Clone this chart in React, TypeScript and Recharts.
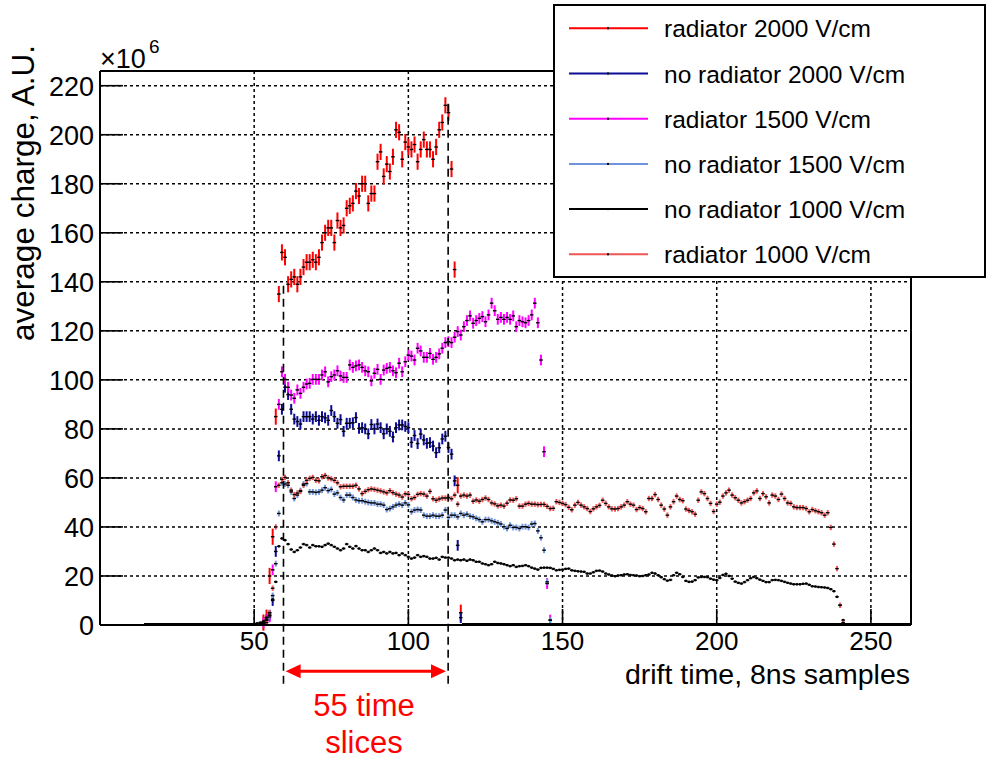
import React from 'react';
import {
  CartesianGrid,
  ErrorBar,
  ReferenceLine,
  Scatter,
  ScatterChart,
  XAxis,
  YAxis,
} from 'recharts';

const FONT = '"Liberation Sans", Arial, Helvetica, sans-serif';

// axis ticks
const X_TICKS = [50, 100, 150, 200, 250];
const X_MINOR = [10, 20, 30, 40, 50, 60, 70, 80, 90, 100, 110, 120, 130, 140, 150, 160, 170, 180, 190, 200, 210, 220, 230, 240, 250, 260];
const Y_TICKS = [0, 20, 40, 60, 80, 100, 120, 140, 160, 180, 200, 220];
const Y_MINOR = [5, 10, 15, 20, 25, 30, 35, 40, 45, 50, 55, 60, 65, 70, 75, 80, 85, 90, 95, 100, 105, 110, 115, 120, 125, 130, 135, 140, 145, 150, 155, 160, 165, 170, 175, 180, 185, 190, 195, 200, 205, 210, 215, 220, 225];
const X_DOMAIN: [number, number] = [0, 263];
const Y_DOMAIN: [number, number] = [0, 226];

// average charge (x10^6) per drift-time bin, first bin given by *_START
const RADIATOR_2000_START = 53;
const RADIATOR_2000 = [1, 3, 20, 36, 85, 135, 152, 150, 139, 141, 142, 139, 142, 146, 148, 148, 149, 148, 150, 156, 160, 162, 162, 156, 165, 162, 163, 170, 171, 172, 177, 175, 180, 180, 172, 176, 176, 189, 193, 183, 188, 185, 191, 202, 201, 190, 197, 195, 194, 196, 189, 194, 198, 194, 194, 190, 195, 202, 205, 212, 209, 186, 145, 57, 5];

const NO_RADIATOR_2000_START = 54;
const NO_RADIATOR_2000 = [2, 4, 10, 30, 69, 88, 97, 94, 88, 84, 83, 82, 85, 85, 85, 84, 85, 83.5, 85, 84.5, 83.5, 87.5, 85, 82.3, 83.8, 79, 82.3, 82.3, 82.5, 84.6, 80.2, 80.5, 80, 78, 81.8, 80, 82, 80.5, 78, 80, 79, 76.7, 80.5, 81.6, 81.6, 81, 80.5, 74.5, 77.3, 74, 77.9, 75.5, 74.1, 74.4, 73, 70.3, 72.3, 75.9, 77, 72.4, 69.7, 58.8, 32.5, 3];

const RADIATOR_1500_START = 53;
const RADIATOR_1500 = [1, 2, 3.3, 22.5, 56.4, 90, 103.3, 100.2, 97, 93.8, 92.5, 95.9, 94.5, 97, 98.3, 98.6, 100.2, 100.2, 100.2, 102, 103.3, 99.2, 101.3, 102, 103.7, 101.6, 101, 101, 106.1, 105.1, 105.7, 106.1, 105.1, 103.7, 103.3, 99.6, 102.7, 104.3, 100.2, 104, 104.7, 105.1, 103.7, 102.9, 106.8, 103.3, 107.4, 110.1, 109.7, 108.1, 112.9, 111.8, 109.2, 109.2, 110.8, 108.4, 109.2, 110.6, 112.9, 115.2, 115.6, 115.2, 117.4, 119.7, 118.3, 121.7, 124.2, 126.1, 123.1, 124.2, 125.1, 125.8, 123.7, 126.5, 131.3, 128.2, 124.7, 125.5, 124.7, 125.5, 124.7, 126.1, 121.7, 124.2, 123.7, 123.3, 124.2, 126.5, 131.3, 123.3, 108.1, 70.7, 16.9, 2];

const NO_RADIATOR_1500_START = 54;
const NO_RADIATOR_1500 = [2, 4, 12, 25, 45.5, 58, 57.5, 57, 54.3, 51.6, 53, 54.8, 57.5, 57.7, 54.3, 54.3, 54.1, 54.3, 55, 56, 54.8, 55.3, 53.4, 53.9, 52, 51, 53, 53, 52, 51, 50.7, 50.7, 50.3, 50, 49.8, 49.8, 49.3, 49.3, 48.9, 47.1, 47.5, 48.2, 48.9, 49.3, 48.9, 49.8, 49, 46.2, 46.9, 47.1, 46.9, 44.8, 44.4, 44.4, 44.8, 44.4, 44.4, 44.8, 46.9, 43.9, 44.8, 44.8, 44.1, 45.5, 44.8, 45.2, 44.4, 44.1, 43.5, 43, 42.1, 43, 43, 42.5, 42.1, 41.7, 41.2, 40.1, 39.4, 40.7, 39.8, 39.8, 39.4, 40.1, 40.1, 39.8, 41.2, 41.4, 38.4, 35.6, 30.5, 17.6, 2];

const NO_RADIATOR_1000_START = 50;
const NO_RADIATOR_1000 = [0.5, 0.7, 1, 1.5, 3, 5, 10.4, 17.6, 32.1, 35.3, 34.6, 33, 30.8, 29.8, 30.5, 31.6, 33, 32.6, 31.6, 32.6, 32.1, 32.1, 31.9, 32.6, 33.2, 32.6, 31.9, 31.2, 30.5, 31.2, 33, 31.9, 31.2, 32.2, 31.2, 30.5, 30.5, 29.8, 30.5, 31.2, 30.5, 29.4, 29.8, 29.2, 29.8, 29.2, 29.4, 28.5, 29.2, 28.5, 27.8, 27.1, 27.5, 28.5, 27.8, 28.1, 27.8, 27.1, 27.1, 27.4, 26.7, 27.8, 27.5, 27.5, 27.1, 26.4, 26.7, 26.4, 26.7, 26.2, 26.7, 26.4, 25.8, 25.8, 25.1, 24.8, 24.4, 24.8, 25.8, 25.3, 25.1, 24.8, 24.4, 24, 24.4, 23.7, 24, 24.1, 24.4, 24, 23.4, 23, 22.6, 23.3, 23.4, 23.4, 23.3, 22.9, 22.3, 22.5, 22.6, 22.9, 23, 22.3, 22.1, 21.9, 21.8, 21.7, 21, 21, 21.5, 22.1, 22.2, 21.8, 21, 20.6, 20.2, 19.9, 20.2, 20.3, 20.6, 20.7, 20.4, 20.3, 20.2, 19.9, 20, 20.3, 20.6, 21.3, 21, 20.3, 19.5, 18.7, 18.1, 18.4, 20.3, 21.3, 20.7, 19.6, 18, 17.6, 17.7, 18.3, 19.4, 19.6, 19.6, 19.5, 18.9, 18.5, 18.3, 19.2, 20.4, 20.9, 20, 18.9, 17.7, 17.2, 16.9, 17.5, 18.3, 19.1, 19.6, 19.1, 18.5, 18, 17.5, 17.5, 18.3, 18.4, 18.3, 18, 17.6, 17.2, 16.9, 16.6, 16.6, 16.6, 16.8, 16.9, 16.4, 15.8, 15.7, 15.5, 15.4, 15.3, 15.1, 14.6, 13.8, 11.5, 8.1, 2];

const RADIATOR_1000_START = 53;
const RADIATOR_1000 = [0.5, 1, 5, 15, 40, 57, 59.4, 60.2, 58, 55, 53.2, 53.8, 54.5, 57, 59, 59.8, 60.2, 59, 58.8, 60.5, 61, 60, 59.6, 59, 58, 56.4, 56.6, 56.6, 56.6, 56.6, 57, 55.5, 53.6, 54.5, 55.2, 55.5, 55.3, 55, 54.7, 54.3, 53.9, 54.8, 54, 53.4, 53, 52.2, 53.5, 53.3, 51.5, 52, 53.3, 53.6, 53.4, 52.6, 54.5, 51.5, 50.9, 51.4, 51.8, 51.8, 52, 51.5, 53, 49.3, 52.6, 53, 52.6, 53, 50.5, 51, 50.5, 51.2, 51.8, 51.2, 49.8, 49.4, 48.6, 48.9, 48.5, 49.7, 51, 50.9, 51.5, 48.5, 48.5, 49.3, 49.6, 49.3, 49.3, 49.1, 49.2, 49.2, 48.4, 47.5, 47.6, 50.3, 50, 49.6, 49.1, 48, 47, 48.9, 50, 48.9, 48.2, 47.5, 46.3, 47.4, 48.2, 48.8, 50.9, 49.6, 48.2, 47.4, 47.3, 47.5, 48.2, 48.9, 50.3, 49.3, 48.9, 47.1, 47.9, 47.5, 46.2, 51.6, 51.6, 53.2, 51.2, 48.9, 47.3, 44.8, 48.2, 50.3, 52.6, 51.2, 50.7, 47.3, 46.7, 46.2, 45.2, 50.9, 54.3, 53.6, 51.6, 49.6, 46.3, 49.3, 50.1, 52.6, 53.9, 55, 53, 51.9, 50.9, 49.8, 50.3, 50.9, 51.6, 53.9, 54.7, 51.6, 53.6, 52.3, 49.8, 53, 52.6, 51.2, 53.4, 51.6, 49.8, 49.6, 48.2, 47.9, 47.9, 47.9, 47.5, 46.2, 47.1, 46.6, 46.2, 45.8, 44.8, 45.8, 39.8, 33, 23, 8, 1];

// statistical error per series (x10^6)
const ERR_R2000 = 3.3;
const ERR_N2000 = 2.2;
const ERR_R1500 = 2.2;
const ERR_N1500 = 1.2;
const ERR_N1000 = 0.5;
const ERR_R1000 = 1.1;

// empty bins sit just above zero
const BASELINE_FIRST = 15;
const BASELINE_LAST = 263;
const BASELINE_LEVEL = 0.5;

// annotation (drift-time bins / charge units)
const SLICE_START = 59.5;
const SLICE_END = 112.9;
const DASH_BOTTOM = -24;
const LEFT_DASH_TOP = 140;
const RIGHT_DASH_TOP = 214;
const ARROW_Y = -18.9;
const ARROW_FROM = 60.2;
const ARROW_TO = 112.2;

// axes need a non-zero size to render; keep it negligible
const AX = 0.01;

type Pt = { x: number; y: number; err: number };

function buildSeries(start: number, values: number[], err: number): Pt[] {
  const pts: Pt[] = [];
  for (let x = BASELINE_FIRST; x < start; x++) pts.push({ x, y: BASELINE_LEVEL, err: 0 });
  values.forEach((v, i) => pts.push({ x: start + i, y: v, err }));
  for (let x = start + values.length; x <= BASELINE_LAST; x++) pts.push({ x, y: BASELINE_LEVEL, err: 0 });
  return pts;
}

const SERIES = [
  { name: 'radiator 2000 V/cm', color: '#ff0000', data: buildSeries(RADIATOR_2000_START, RADIATOR_2000, ERR_R2000) },
  { name: 'no radiator 2000 V/cm', color: '#0c0c96', data: buildSeries(NO_RADIATOR_2000_START, NO_RADIATOR_2000, ERR_N2000) },
  { name: 'radiator 1500 V/cm', color: '#ff00ff', data: buildSeries(RADIATOR_1500_START, RADIATOR_1500, ERR_R1500) },
  { name: 'no radiator 1500 V/cm', color: '#6f94dc', data: buildSeries(NO_RADIATOR_1500_START, NO_RADIATOR_1500, ERR_N1500) },
  { name: 'no radiator 1000 V/cm', color: '#000000', data: buildSeries(NO_RADIATOR_1000_START, NO_RADIATOR_1000, ERR_N1000) },
  { name: 'radiator 1000 V/cm', color: '#ee5555', data: buildSeries(RADIATOR_1000_START, RADIATOR_1000, ERR_R1000) },
];

const Marker = (p: any) => (
  <line x1={p.cx - 1.8} x2={p.cx + 1.8} y1={p.cy} y2={p.cy} stroke="#000" strokeWidth={1.4} />
);

const XMajorTick = (p: any) => (
  <g>
    <line x1={p.x} x2={p.x} y1={p.y} y2={p.y - 16} stroke="#000" strokeWidth={1.6} />
    <text x={p.x} y={p.y + 25} textAnchor="middle" fontSize={26} fontFamily={FONT} fill="#000">
      {p.payload.value}
    </text>
  </g>
);

const XMinorTick = (p: any) => (
  <line x1={p.x} x2={p.x} y1={p.y} y2={p.y - 8} stroke="#000" strokeWidth={1.6} />
);

const YMajorTick = (p: any) => (
  <g>
    <line x1={p.x} x2={p.x + 23} y1={p.y} y2={p.y} stroke="#000" strokeWidth={1.6} />
    <text x={p.x - 6} y={p.y + 9.8} textAnchor="end" fontSize={27} fontFamily={FONT} fill="#000">
      {p.payload.value}
    </text>
  </g>
);

const YMinorTick = (p: any) => (
  <line x1={p.x} x2={p.x + 12} y1={p.y} y2={p.y} stroke="#000" strokeWidth={1.6} />
);

const ArrowShape = (p: any) => {
  const { x1, y1, x2, y2 } = p;
  const head = 15;
  const half = 7;
  return (
    <g>
      <line x1={x1 + head - 2} y1={y1} x2={x2 - head + 2} y2={y2} stroke="#ff0000" strokeWidth={3} />
      <polygon points={`${x1},${y1} ${x1 + head},${y1 - half} ${x1 + head},${y1 + half}`} fill="#ff0000" />
      <polygon points={`${x2},${y2} ${x2 - head},${y2 - half} ${x2 - head},${y2 + half}`} fill="#ff0000" />
    </g>
  );
};

export default function App() {
  return (
    <div style={{ position: 'absolute', left: 0, top: 0, width: 986, height: 759, background: '#fff' }}>
      <ScatterChart
        width={986}
        height={759}
        margin={{ top: 71 - AX, right: 75 - AX, bottom: 134 - 2 * AX, left: 100 - 2 * AX }}
      >
        <CartesianGrid stroke="#000" strokeWidth={1.5} strokeDasharray="3 3" />
        <XAxis
          type="number"
          dataKey="x"
          domain={X_DOMAIN}
          ticks={X_TICKS}
          interval={0}
          height={AX}
          tickSize={0}
          tickMargin={0}
          allowDataOverflow
          axisLine={{ stroke: '#000', strokeWidth: 2 }}
          tick={<XMajorTick />}
        />
        <XAxis
          xAxisId="minor"
          type="number"
          domain={X_DOMAIN}
          ticks={X_MINOR}
          interval={0}
          height={AX}
          tickSize={0}
          tickMargin={0}
          axisLine={false}
          tick={<XMinorTick />}
        />
        <XAxis
          xAxisId="top"
          orientation="top"
          type="number"
          domain={X_DOMAIN}
          height={AX}
          tick={false}
          tickLine={false}
          axisLine={{ stroke: '#000', strokeWidth: 2 }}
        />
        <YAxis
          type="number"
          dataKey="y"
          domain={Y_DOMAIN}
          ticks={Y_TICKS}
          interval={0}
          width={AX}
          tickSize={0}
          tickMargin={0}
          allowDataOverflow
          axisLine={{ stroke: '#000', strokeWidth: 2 }}
          tick={<YMajorTick />}
        />
        <YAxis
          yAxisId="minor"
          type="number"
          domain={Y_DOMAIN}
          ticks={Y_MINOR}
          interval={0}
          width={AX}
          tickSize={0}
          tickMargin={0}
          axisLine={false}
          tick={<YMinorTick />}
        />
        <YAxis
          yAxisId="right"
          orientation="right"
          type="number"
          domain={Y_DOMAIN}
          width={AX}
          tick={false}
          tickLine={false}
          axisLine={{ stroke: '#000', strokeWidth: 2 }}
        />

        {SERIES.map((s) => (
          <Scatter key={s.name} name={s.name} data={s.data} fill={s.color} shape={Marker} isAnimationActive={false}>
            <ErrorBar dataKey="err" direction="y" width={0} stroke={s.color} strokeWidth={2} isAnimationActive={false} />
          </Scatter>
        ))}

        <ReferenceLine
          segment={[{ x: SLICE_START, y: DASH_BOTTOM }, { x: SLICE_START, y: LEFT_DASH_TOP }]}
          stroke="#000"
          strokeWidth={1.6}
          strokeDasharray="8 5"
          ifOverflow="visible"
        />
        <ReferenceLine
          segment={[{ x: SLICE_END, y: DASH_BOTTOM }, { x: SLICE_END, y: RIGHT_DASH_TOP }]}
          stroke="#000"
          strokeWidth={1.6}
          strokeDasharray="8 5"
          ifOverflow="visible"
        />
        <ReferenceLine
          segment={[{ x: ARROW_FROM, y: ARROW_Y }, { x: ARROW_TO, y: ARROW_Y }]}
          ifOverflow="visible"
          shape={ArrowShape}
        />
      </ScatterChart>

      <svg width={986} height={759} style={{ position: 'absolute', left: 0, top: 0, pointerEvents: 'none' }}>
        {/* axis titles */}
        <text x={100} y={68} fontSize={27} fontFamily={FONT} fill="#000">×10</text>
        <text x={149} y={53} fontSize={19} fontFamily={FONT} fill="#000">6</text>
        <text
          x={34}
          y={45}
          transform="rotate(-90 34 45)"
          textAnchor="end"
          fontSize={31.5}
          fontFamily={FONT}
          fill="#000"
        >
          average charge, A.U.
        </text>
        <text x={910} y={684} textAnchor="end" fontSize={28.5} fontFamily={FONT} fill="#000">
          drift time, 8ns samples
        </text>
        <text x={364} y={716} textAnchor="middle" fontSize={31} fontFamily={FONT} fill="#ff0000">55 time</text>
        <text x={364} y={753} textAnchor="middle" fontSize={31} fontFamily={FONT} fill="#ff0000">slices</text>

        {/* legend */}
        <rect x={554} y={5} width={431} height={272} fill="#fff" stroke="#000" strokeWidth={2} />
        {SERIES.map((s, i) => {
          const cy = 28.3 + 45.2 * i;
          return (
            <g key={s.name}>
              <line x1={569} x2={648} y1={cy} y2={cy} stroke={s.color} strokeWidth={2} />
              <rect x={607} y={cy - 1} width={2} height={2} fill="#000" />
              <text x={664} y={cy + 9} fontSize={24.5} fontFamily={FONT} fill="#000">{s.name}</text>
            </g>
          );
        })}
      </svg>
    </div>
  );
}
